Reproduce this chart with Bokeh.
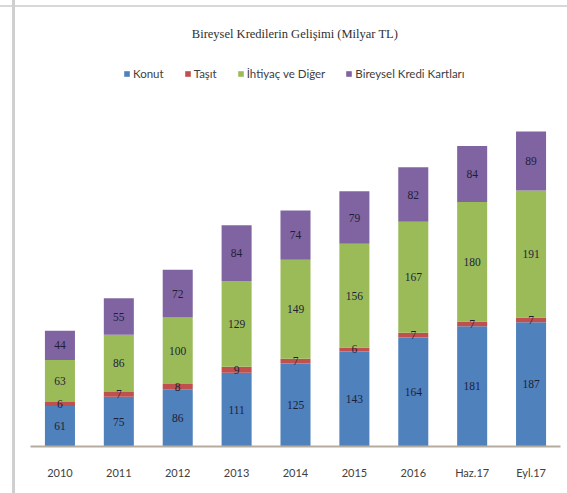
from bokeh.plotting import figure
from bokeh.models import ColumnDataSource, Legend, LegendItem, Label, LabelSet
from bokeh.embed import file_html
from bokeh.resources import INLINE

years = ["2010", "2011", "2012", "2013", "2014", "2015", "2016", "Haz.17", "Eyl.17"]
konut = [61, 75, 86, 111, 125, 143, 164, 181, 187]
tasit = [6, 7, 8, 9, 7, 6, 7, 7, 7]
ihtiyac = [63, 86, 100, 129, 149, 156, 167, 180, 191]
kart = [44, 55, 72, 84, 74, 79, 82, 84, 89]
series = ["Konut", "Taşıt", "İhtiyaç ve Diğer", "Bireysel Kredi Kartları"]
colors = ["#4F81BD", "#C0504D", "#9BBB59", "#8064A2"]
title_text = "Bireysel Kredilerin Gelişimi  (Milyar TL)"

keys = ["konut", "tasit", "ihtiyac", "kart"]
data = dict(x=years, konut=konut, tasit=tasit, ihtiyac=ihtiyac, kart=kart)
src = ColumnDataSource(data)

W, H = 567, 493
p = figure(x_range=years, y_range=(0, 656), width=W, height=H,
           output_backend="svg", toolbar_location=None,
           min_border_left=30, min_border_right=7, min_border_top=10, min_border_bottom=47)
p.styles = {"background": "linear-gradient(to right, transparent 12px, #cfcfcf 12px, #cfcfcf 15px, transparent 15px), "
                          "linear-gradient(to bottom, transparent 5px, #d8d8d8 5px, #d8d8d8 7px, transparent 7px), white"}
p.background_fill_alpha = 0
p.border_fill_alpha = 0
p.outline_line_color = None
p.grid.visible = False
p.yaxis.visible = False

rs = p.vbar_stack(keys, x="x", width=0.51, color=colors, source=src, line_color=None)

# labels
lx, ly, lt = [], [], []
for i, yr in enumerate(years):
    base = 0
    for k in keys:
        v = data[k][i]
        lx.append(yr)
        ly.append(base + v / 2)
        lt.append(str(v))
        base += v
lsrc = ColumnDataSource(dict(x=lx, y=ly, t=lt))
p.add_layout(LabelSet(x="x", y="y", text="t", source=lsrc, text_align="center",
                      text_baseline="middle", text_font="Lato", text_font_size="11.5px",
                      text_color="#1e1e38"))

ax = p.xaxis[0]
ax.axis_line_color = "#b5ab9e"
ax.axis_line_width = 2
ax.major_tick_line_color = None
ax.minor_tick_line_color = None
ax.major_label_text_font = "Lato"
ax.major_label_text_font_size = "11px"
ax.major_label_text_color = "#404040"
ax.major_label_standoff = 13

legend = Legend(items=[LegendItem(label=s, renderers=[r]) for s, r in zip(series, rs)],
                orientation="horizontal", location=(93, 366),
                glyph_width=7, glyph_height=7, label_standoff=3, spacing=20,
                label_text_font="Lato", label_text_font_size="11.5px", label_text_color="#404040",
                border_line_color=None, background_fill_alpha=0, padding=2, margin=0,
                label_height=10)
p.add_layout(legend)

p.add_layout(Label(x=266, y=413, x_units="screen", y_units="screen", text=title_text,
                   text_font="Liberation Serif", text_font_size="12.5px", text_align="center",
                   text_baseline="middle", text_color="#303030"))

open("out.html", "w").write(file_html(p, INLINE))
